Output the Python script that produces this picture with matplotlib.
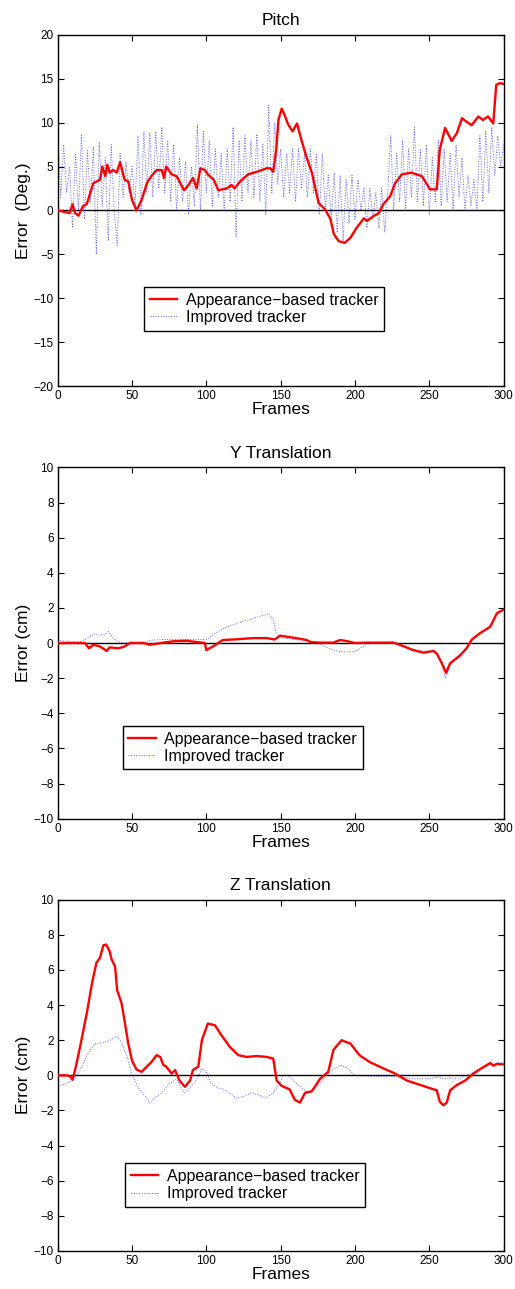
import matplotlib
matplotlib.use('Agg')
import matplotlib.pyplot as plt
import numpy as np

plt.rcParams['font.family'] = ['Liberation Sans', 'DejaVu Sans']

# ---- Pitch ----
pitch_red_f = [0, 8, 10, 11.7, 14, 17, 19.5, 24, 28.5, 30, 32, 33.4, 35, 37.4, 39.7, 42, 45, 47.5, 50, 53,
               56.5, 60, 63, 66.6, 70, 71.5, 73, 76.7, 80, 85, 88, 91, 93.5, 96, 99, 101, 105, 108, 113.7, 117,
               119, 122.7, 128, 134, 140.6, 143, 145, 147, 148.5, 150.7, 153, 155, 158, 161, 164, 167.5, 171,
               175.5, 180, 183.5, 185.8, 189, 193, 197, 201, 206, 208, 212, 216, 219, 223.6, 227, 231.5, 238,
               245, 250.5, 255, 257, 260.6, 263, 265, 268.5, 272, 275, 278.5, 283, 286, 289.5, 293, 295, 297.5, 300]
pitch_red_v = [0, -0.3, 0.7, -0.3, -0.6, 0.5, 0.7, 3.1, 3.5, 5.0, 3.9, 5.2, 4.3, 4.6, 4.3, 5.5, 3.5, 3.3, 1.2, 0.0,
               1.2, 3.1, 3.9, 4.6, 4.6, 3.7, 5.0, 4.1, 3.9, 2.3, 2.9, 3.7, 2.5, 4.8, 4.6, 4.1, 3.5, 2.3, 2.5, 2.9,
               2.5, 3.3, 4.1, 4.4, 4.8, 4.8, 4.4, 6.9, 10.3, 11.6, 10.7, 9.8, 9.0, 9.9, 8.0, 6.0, 4.3,
               0.85, 0.1, -1.0, -2.7, -3.5, -3.7, -3.1, -2.0, -0.9, -1.2, -0.7, -0.3, 0.7, 1.6, 3.1, 4.1, 4.3,
               3.9, 2.4, 2.4, 6.9, 9.4, 8.6, 7.9, 8.8, 10.5, 10.1, 9.7, 10.7, 10.3, 10.7, 9.9, 14.3, 14.5, 14.4]

pitch_blue_f = list(range(0, 301, 2))
pitch_blue_v = [9.2, 1.5, 7.5, 2.0, 5.0,
                -2.0, 6.5, 0.0, 8.7, -1.0,
                6.8, 1.0, 7.2, -5.0, 7.8,
                0.5, 6.0, -3.5, 7.5, 0.0,
                -4.0, 6.5, 1.5, 5.5, 2.0,
                5.0, 0.5, 8.5, -0.5, 9.0,
                2.0, 8.8, 1.5, 9.0, 2.5,
                9.5, 2.0, 8.0, 1.0, 7.5,
                0.0, 6.0, 1.0, 5.5, -0.5,
                5.0, 0.5, 9.7, 0.0, 9.0,
                2.0, 8.0, 0.5, 7.0, 1.5,
                6.5, 0.0, 7.0, 1.0, 9.5,
                -3.0, 8.0, 1.0, 8.5, 2.0,
                8.0, 1.5, 8.7, 1.0, 7.5,
                -0.5, 12.0, 2.0, 10.0, 3.0,
                7.0, 1.5, 6.5, 2.0, 7.0,
                1.0, 7.0, 2.5, 6.5, 1.5,
                7.0, 2.0, 6.5, -0.5, 6.5,
                0.0, 4.0, -1.0, 4.3, -2.5,
                4.0, -3.5, 3.5, -1.5, 4.0,
                -1.0, 3.5, 0.0, 2.5, -2.0,
                2.5, -1.0, 2.0, -2.0, 2.5,
                -2.5, 2.0, 8.5, 0.0, 6.5,
                1.0, 8.0, 0.0, 7.0, 1.5,
                9.5, 1.0, 7.0, 0.5, 7.5,
                -0.5, 6.0, 1.0, 8.0, 0.5,
                7.0, 1.0, 6.5, 0.0, 7.5,
                1.5, 6.0, 0.0, 4.0, 0.5,
                3.5, 0.0, 8.5, 1.0, 9.0,
                2.0, 9.5, 4.0, 8.5, 5.0,
                7.5]

# ---- Y translation ----
ytr_red_f = [0, 15, 18.4, 21, 24, 28.5, 33, 35, 40.8, 45, 48.6, 57.6, 62, 71, 78, 86.8, 91, 99, 100, 105,
             111, 118, 131.6, 140.6, 146, 149.6, 154, 161, 167.5, 170, 176.5, 185.5, 190, 194.5, 200, 208,
             226, 230, 239, 246, 252.8, 255, 258.4, 261.3, 264, 270.8, 275, 278.6, 284, 291, 295.5, 300]
ytr_red_v = [0, 0, 0, -0.3, -0.1, -0.2, -0.45, -0.25, -0.3, -0.2, 0, 0, -0.1, 0.02, 0.1, 0.13, 0.08, 0, -0.4, -0.17,
             0.17, 0.2, 0.28, 0.28, 0.2, 0.42, 0.36, 0.27, 0.17, 0.06, 0.02, 0.02, 0.17, 0.11, 0, 0.02,
             0.02, -0.1, -0.4, -0.55, -0.45, -0.6, -1.15, -1.7, -1.15, -0.7, -0.3, 0.2, 0.55, 0.93, 1.7, 1.9]
ytr_blue_f = [0, 15, 18, 20, 25, 28, 32, 34, 37, 40, 45, 50, 57, 60, 62, 70, 80, 90, 95, 100, 102, 105, 110,
              115, 120, 125, 130, 135, 140, 142, 145, 147, 150, 160, 170, 175, 180, 185, 190, 195, 200, 205,
              210, 220, 230, 240, 250, 255, 258, 261, 264, 270, 275, 280, 285, 290, 295, 300]
ytr_blue_v = [0.15, 0.05, 0.2, 0.25, 0.55, 0.45, 0.5, 0.65, 0.3, 0.1, 0, 0.05, 0.05, 0.05, 0.15, 0.2, 0.2, 0.2, 0.2, 0.2, 0.3, 0.5, 0.75,
              0.95, 1.1, 1.25, 1.35, 1.5, 1.6, 1.7, 1.3, 0.6, 0.3, 0.2, 0.1, 0.0, -0.2, -0.4, -0.5, -0.5, -0.5, -0.2,
              0, 0.05, -0.05, -0.4, -0.5, -0.6, -1.2, -2.0, -1.2, -0.7, -0.3, 0.3, 0.6, 0.9, 1.6, 2.0]

# ---- Z translation ----
ztr_red_f = [0, 6, 8.3, 10, 11.7, 15, 19.5, 23, 26, 28.5, 30.7, 32.5, 34.8, 36.3, 38.6, 40, 43, 45, 47.5, 50,
             53, 56.5, 60, 63, 66.6, 69, 71, 73, 76.7, 79, 82, 85.6, 89, 91, 94.6, 97, 101, 105.8, 110, 116,
             121.5, 127, 134, 140.6, 145, 147.3, 150.7, 156, 159.6, 163, 166.4, 171, 176.5, 182, 185.5, 191,
             197, 203, 210, 219, 227, 235, 244, 253, 255, 257, 259.5, 261.7, 264, 268.5, 274, 279.7, 285,
             291, 293, 295.5, 300]
ztr_red_v = [0, 0, -0.05, -0.25, 0.3, 1.6, 3.5, 5.2, 6.4, 6.7, 7.4, 7.45, 7.1, 6.6, 6.2, 4.85, 4.1, 3.1, 1.8, 0.85,
             0.33, 0.2, 0.5, 0.75, 1.15, 1.05, 0.6, 0.5, 0.1, 0.3, -0.3, -0.65, -0.3, 0.3, 0.5, 2.0, 2.95, 2.85, 2.3, 1.6,
             1.15, 1.05, 1.1, 1.05, 0.95, -0.3, -0.6, -0.8, -1.4, -1.55, -1.0, -0.9, -0.2, 0.2, 1.45, 2.0,
             1.8, 1.15, 0.75, 0.4, 0.1, -0.3, -0.55, -0.8, -0.85, -1.5, -1.7, -1.55, -0.85, -0.55, -0.3, 0.1, 0.4,
             0.7, 0.55, 0.65, 0.62]
ztr_blue_f = [0, 5, 10, 15, 20, 25, 30, 35, 40, 43, 47, 50, 55, 60, 62, 65, 70, 75, 80, 85, 88, 92, 95, 97,
              100, 103, 107, 112, 117, 120, 125, 130, 135, 140, 145, 148, 152, 155, 160, 165, 170, 175, 180,
              185, 190, 195, 200, 210, 220, 230, 240, 250, 255, 260, 265, 270, 275, 280, 285, 290, 295, 300]
ztr_blue_v = [-0.6, -0.5, -0.3, 0.3, 1.2, 1.8, 1.85, 2.0, 2.2, 1.9, 1.0, 0.0, -0.8, -1.3, -1.6, -1.3, -1.0, -0.5, -0.2, -1.0, -0.8, -0.4, 0.0, 0.4,
              0.2, -0.4, -0.7, -0.8, -1.1, -1.3, -1.2, -1.0, -1.1, -1.3, -1.0, -0.6, 0.0, 0.0, -0.4, -0.8, -1.0, -0.6, -0.1,
              0.3, 0.6, 0.4, 0.0, -0.05, -0.05, -0.1, -0.2, -0.2, -0.1, -0.2, -0.15, -0.2, 0.0, 0.2, 0.35, 0.55, 0.7, 0.75]

panels = [
    ('Pitch', 'Error  (Deg.)', pitch_red_f, pitch_red_v, pitch_blue_f, pitch_blue_v,
     (-20, 20), np.arange(-20, 21, 5), 0.7005, (0.1935, 0.282)),
    ('Y Translation', 'Error (cm)', ytr_red_f, ytr_red_v, ytr_blue_f, ytr_blue_v,
     (-10, 10), np.arange(-10, 11, 2), 0.3649, (0.146, 0.264)),
    ('Z Translation', 'Error (cm)', ztr_red_f, ztr_red_v, ztr_blue_f, ztr_blue_v,
     (-10, 10), np.arange(-10, 11, 2), 0.0295, (0.151, 0.25)),
]

fig = plt.figure(figsize=(5.15, 12.89), dpi=100)
for title, ylab, rf, rv, bf, bv, ylim, yt, bottom, leg_xy in panels:
    ax = fig.add_axes([0.112, bottom, 0.866, 0.2725])
    ax.axhline(0, color='k', lw=1.0, zorder=1)
    ax.plot(rf, rv, color='r', lw=1.7, label='Appearance\u2212based tracker', zorder=3)
    ax.plot(bf, bv, color='b', lw=0.7, ls=':', alpha=0.6, label='Improved tracker', zorder=2)
    ax.set_xlim(0, 300)
    ax.set_ylim(*ylim)
    ax.set_xticks(np.arange(0, 301, 50))
    ax.set_yticks(yt)
    ax.tick_params(direction='in', top=True, right=True, length=4, width=0.8, labelsize=8.5, pad=3)
    for s in ax.spines.values():
        s.set_linewidth(1.0)
    ax.set_title(title, fontsize=12.5, pad=7)
    ax.set_xlabel('Frames', fontsize=12.5, labelpad=0)
    ax.set_ylabel(ylab, fontsize=12.5, labelpad=2)
    leg = ax.legend(loc='upper left', bbox_to_anchor=leg_xy, borderaxespad=0, fontsize=11.5,
                    fancybox=False, framealpha=1, edgecolor='k', handlelength=1.7,
                    handletextpad=0.55, labelspacing=0.15, borderpad=0.35)
    leg.get_frame().set_linewidth(1.0)

plt.savefig('out.png', dpi=100)
